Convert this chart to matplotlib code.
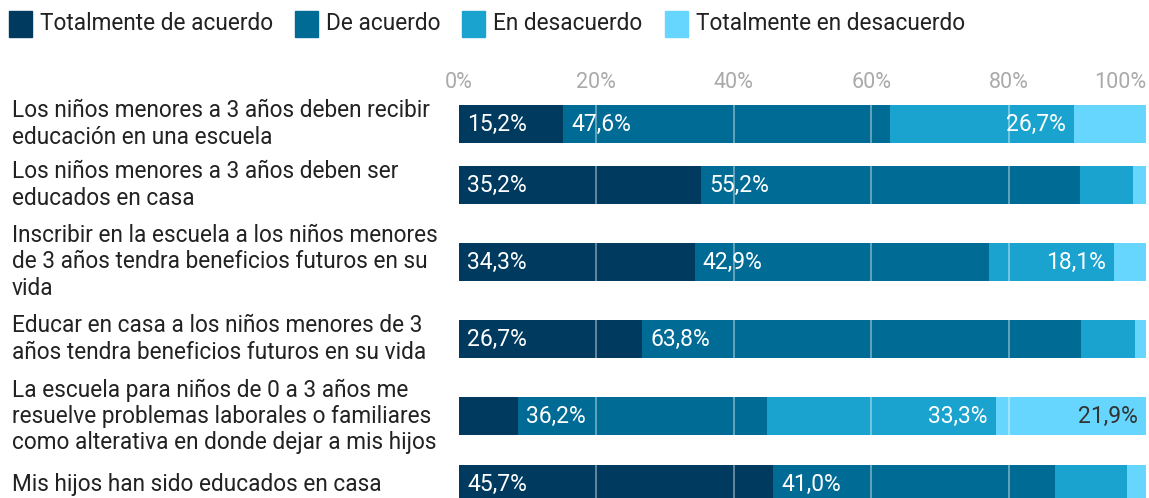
import matplotlib.pyplot as plt
from matplotlib.patches import Rectangle

plt.rcParams['font.family'] = ['Roboto', 'DejaVu Sans']

# datos
preguntas = [
    'Los niños menores a 3 años deben recibir\neducación en una escuela',
    'Los niños menores a 3 años deben ser\neducados en casa',
    'Inscribir en la escuela a los niños menores\nde 3 años tendra beneficios futuros en su\nvida',
    'Educar en casa a los niños menores de 3\naños tendra beneficios futuros en su vida',
    'La escuela para niños de 0 a 3 años me\nresuelve problemas laborales o familiares\ncomo alterativa en donde dejar a mis hijos',
    'Mis hijos han sido educados en casa',
]
series = ['Totalmente de acuerdo', 'De acuerdo', 'En desacuerdo', 'Totalmente en desacuerdo']
tot_acuerdo = [15.2, 35.2, 34.3, 26.7, 8.6, 45.7]
de_acuerdo = [47.6, 55.2, 42.9, 63.8, 36.2, 41.0]
en_desacuerdo = [26.7, 7.7, 18.1, 7.9, 33.3, 10.5]
tot_desacuerdo = [10.5, 1.9, 4.7, 1.6, 21.9, 2.8]
ticks = [0, 20, 40, 60, 80, 100]

colores = ['#003b5f', '#006b95', '#1aa3cf', '#66d6ff']
color_texto = ['white', 'white', 'white', '#333333']

# altura de cada fila segun lineas de la etiqueta (en pixeles)
alto_fila = {1: 43, 2: 61, 3: 93}
lineas = [p.count('\n') + 1 for p in preguntas]
y = []
pos = 124
for i, n in enumerate(lineas):
    if i > 0:
        pos += (alto_fila[lineas[i - 1]] + alto_fila[n]) / 2
    y.append(pos)

fig = plt.figure(figsize=(11.49, 4.98), dpi=100)
ax = fig.add_axes([459 / 1149, 0, (1146 - 459) / 1149, 438 / 498])
ax.set_xlim(0, 100)
ax.set_ylim(498, 60)

datos = [tot_acuerdo, de_acuerdo, en_desacuerdo, tot_desacuerdo]
izq = [0] * len(preguntas)
for s, vals in enumerate(datos):
    ax.barh(y, vals, left=izq, height=37.5, color=colores[s], label=series[s], zorder=2)
    for i, v in enumerate(vals):
        if v >= 15:
            txt = f'{v:.1f}%'.replace('.', ',')
            if s < 2:
                ax.text(izq[i] + 1.2, y[i], txt, ha='left', va='center', color=color_texto[s],
                        fontsize=16.5, zorder=4)
            else:
                ax.text(izq[i] + v - 1.2, y[i], txt, ha='right', va='center', color=color_texto[s],
                        fontsize=16.5, zorder=4)
    izq = [a + b for a, b in zip(izq, vals)]

for t in ticks[1:-1]:
    ax.axvline(t, color='white', alpha=0.45, lw=1.2, zorder=3)

for sp in ax.spines.values():
    sp.set_visible(False)
ax.set_yticks([])
ax.set_xticks([])
for t in ticks:
    ax.text(t, 82, f'{t}%', ha='right' if t == 100 else 'center', va='center',
            color='#aaaaaa', fontsize=15.5)

for i, p in enumerate(preguntas):
    fig.text(12 / 1149, 1 - y[i] / 498, p, ha='left', va='center', fontsize=16.3,
             color='#222222', linespacing=1.17)

# leyenda
leg_x = [9, 295, 462, 665]
for s in range(4):
    fig.patches.append(Rectangle((leg_x[s] / 1149, 1 - 37 / 498), 23 / 1149, 26 / 498,
                                 transform=fig.transFigure, color=colores[s]))
    fig.text((leg_x[s] + 31) / 1149, 1 - 23 / 498, series[s], ha='left', va='center',
             fontsize=16.3, color='#222222')

fig.savefig('out.png', dpi=100)
